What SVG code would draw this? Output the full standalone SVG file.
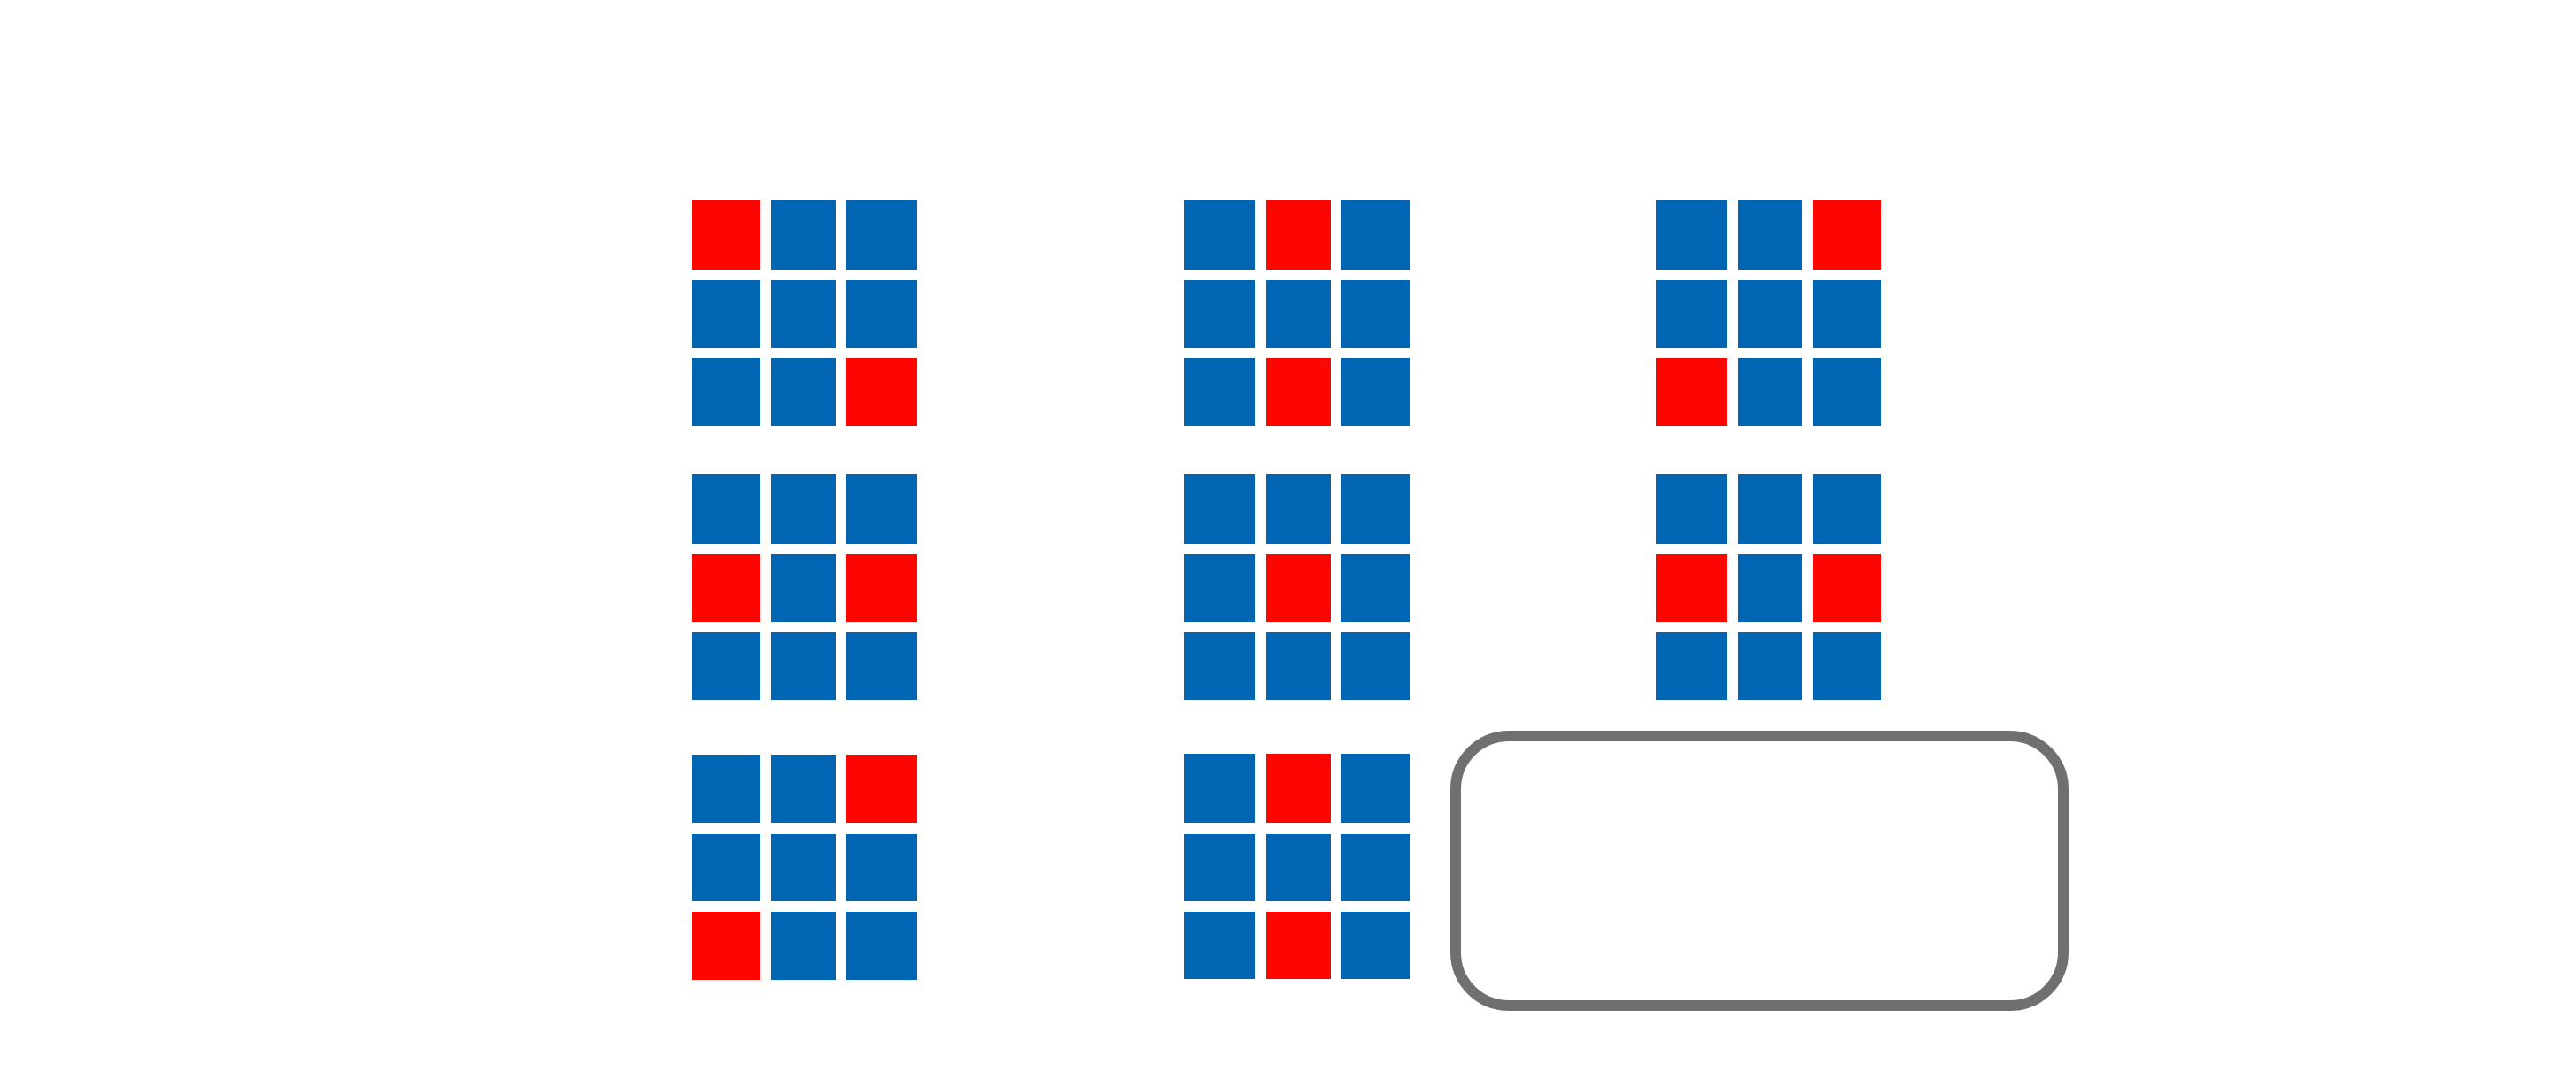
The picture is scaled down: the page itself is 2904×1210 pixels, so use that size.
<svg xmlns="http://www.w3.org/2000/svg" width="2904" height="1210" viewBox="0 0 2904 1210">
<style>
.b{fill:#0066b3}
.r{fill:#ff0500}
.box{fill:#ffffff;stroke:#707070;stroke-width:12}
</style>
<rect width="2904" height="1210" fill="#ffffff"/>
<g id="grid-1-1">
<rect class="r" x="780" y="226" width="77" height="78"/><rect class="b" x="869" y="226" width="73" height="78"/><rect class="b" x="954" y="226" width="80" height="78"/>
<rect class="b" x="780" y="316" width="77" height="76"/><rect class="b" x="869" y="316" width="73" height="76"/><rect class="b" x="954" y="316" width="80" height="76"/>
<rect class="b" x="780" y="404" width="77" height="76"/><rect class="b" x="869" y="404" width="73" height="76"/><rect class="r" x="954" y="404" width="80" height="76"/>
</g>
<g id="grid-1-2">
<rect class="b" x="1335" y="226" width="80" height="78"/><rect class="r" x="1427" y="226" width="73" height="78"/><rect class="b" x="1512" y="226" width="77" height="78"/>
<rect class="b" x="1335" y="316" width="80" height="76"/><rect class="b" x="1427" y="316" width="73" height="76"/><rect class="b" x="1512" y="316" width="77" height="76"/>
<rect class="b" x="1335" y="404" width="80" height="76"/><rect class="r" x="1427" y="404" width="73" height="76"/><rect class="b" x="1512" y="404" width="77" height="76"/>
</g>
<g id="grid-1-3">
<rect class="b" x="1867" y="226" width="80" height="78"/><rect class="b" x="1959" y="226" width="73" height="78"/><rect class="r" x="2044" y="226" width="77" height="78"/>
<rect class="b" x="1867" y="316" width="80" height="76"/><rect class="b" x="1959" y="316" width="73" height="76"/><rect class="b" x="2044" y="316" width="77" height="76"/>
<rect class="r" x="1867" y="404" width="80" height="76"/><rect class="b" x="1959" y="404" width="73" height="76"/><rect class="b" x="2044" y="404" width="77" height="76"/>
</g>
<g id="grid-2-1">
<rect class="b" x="780" y="535" width="77" height="78"/><rect class="b" x="869" y="535" width="73" height="78"/><rect class="b" x="954" y="535" width="80" height="78"/>
<rect class="r" x="780" y="625" width="77" height="76"/><rect class="b" x="869" y="625" width="73" height="76"/><rect class="r" x="954" y="625" width="80" height="76"/>
<rect class="b" x="780" y="713" width="77" height="76"/><rect class="b" x="869" y="713" width="73" height="76"/><rect class="b" x="954" y="713" width="80" height="76"/>
</g>
<g id="grid-2-2">
<rect class="b" x="1335" y="535" width="80" height="78"/><rect class="b" x="1427" y="535" width="73" height="78"/><rect class="b" x="1512" y="535" width="77" height="78"/>
<rect class="b" x="1335" y="625" width="80" height="76"/><rect class="r" x="1427" y="625" width="73" height="76"/><rect class="b" x="1512" y="625" width="77" height="76"/>
<rect class="b" x="1335" y="713" width="80" height="76"/><rect class="b" x="1427" y="713" width="73" height="76"/><rect class="b" x="1512" y="713" width="77" height="76"/>
</g>
<g id="grid-2-3">
<rect class="b" x="1867" y="535" width="80" height="78"/><rect class="b" x="1959" y="535" width="73" height="78"/><rect class="b" x="2044" y="535" width="77" height="78"/>
<rect class="r" x="1867" y="625" width="80" height="76"/><rect class="b" x="1959" y="625" width="73" height="76"/><rect class="r" x="2044" y="625" width="77" height="76"/>
<rect class="b" x="1867" y="713" width="80" height="76"/><rect class="b" x="1959" y="713" width="73" height="76"/><rect class="b" x="2044" y="713" width="77" height="76"/>
</g>
<g id="grid-3-1">
<rect class="b" x="780" y="851" width="77" height="77"/><rect class="b" x="869" y="851" width="73" height="77"/><rect class="r" x="954" y="851" width="80" height="77"/>
<rect class="b" x="780" y="940" width="77" height="76"/><rect class="b" x="869" y="940" width="73" height="76"/><rect class="b" x="954" y="940" width="80" height="76"/>
<rect class="r" x="780" y="1028" width="77" height="77"/><rect class="b" x="869" y="1028" width="73" height="77"/><rect class="b" x="954" y="1028" width="80" height="77"/>
</g>
<g id="grid-3-2">
<rect class="b" x="1335" y="850" width="80" height="78"/><rect class="r" x="1427" y="850" width="73" height="78"/><rect class="b" x="1512" y="850" width="77" height="78"/>
<rect class="b" x="1335" y="940" width="80" height="76"/><rect class="b" x="1427" y="940" width="73" height="76"/><rect class="b" x="1512" y="940" width="77" height="76"/>
<rect class="b" x="1335" y="1028" width="80" height="76"/><rect class="r" x="1427" y="1028" width="73" height="76"/><rect class="b" x="1512" y="1028" width="77" height="76"/>
</g>
<g id="box">
<rect class="box" x="1641" y="830" width="685" height="304" rx="60" ry="60"/>
</g>
<g id="connectors"></g>
</svg>
